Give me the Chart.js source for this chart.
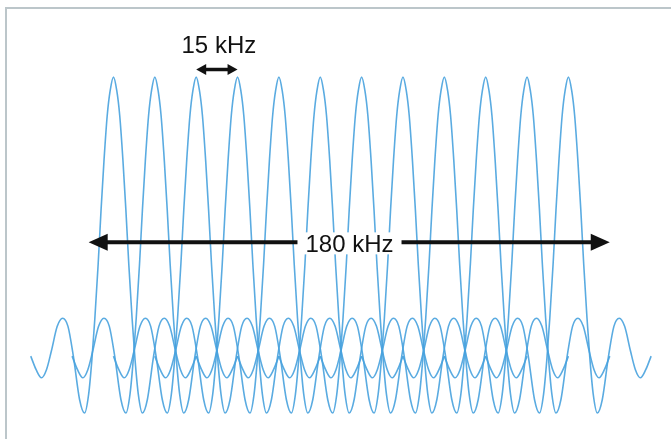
<!DOCTYPE html>
<html>
<head>
  <meta charset="UTF-8">
  <title>OFDM subcarriers</title>
  <script src="https://cdn.jsdelivr.net/npm/chart.js"></script>
  <style>
    body { margin: 0; background: #fff; }
    #wrap { position: relative; width: 671px; height: 439px; }
    #frame { position: absolute; left: 5px; top: 7px; right: -4px; bottom: -4px;
             border-left: 2px solid #bcc6ca; border-top: 2px solid #bcc6ca; }
    canvas { position: absolute; left: 0; top: 0; }
  </style>
</head>
<body>
  <div id="wrap">
    <div id="frame"></div>
    <canvas id="graphique" width="671" height="439"></canvas>
  </div>

  <script>
    // subcarrier centres (kHz), 15 kHz apart
    const carrierCenters = [0, 15, 30, 45, 60, 75, 90, 105, 120, 135, 150, 165];
    // one half of a subcarrier pulse (offset in kHz -> level, peak = 1)
    const pulseOffsets = [0, 1.2, 2.25, 3.45, 4.5, 5.55, 6.75, 7.8, 9, 10.5, 12.3, 14.55, 16.5, 18.45, 20.4, 22.5, 24.3, 26.1, 28.05, 30];
    const pulseLevels  = [1.0, 0.95, 0.86, 0.69, 0.51, 0.31, 0.11, -0.04, -0.17, -0.24, -0.19, -0.03, 0.08, 0.11, 0.08, -0.01, -0.08, -0.11, -0.08, -0.03];

    const spacingLabel = '15 kHz';
    const spacingFrom = 30, spacingTo = 45;
    const bandLabel = '180 kHz';
    const bandFrom = -9, bandTo = 180;

    function pulse(c) {
      const pts = [];
      for (let i = pulseOffsets.length - 1; i > 0; i--) pts.push({ x: c - pulseOffsets[i], y: pulseLevels[i] });
      for (let i = 0; i < pulseOffsets.length; i++) pts.push({ x: c + pulseOffsets[i], y: pulseLevels[i] });
      return pts;
    }

    const datasets = carrierCenters.map(c => ({
      data: pulse(c),
      borderColor: 'rgba(72,162,222,0.9)',
      borderWidth: 1.6,
      pointRadius: 0,
      cubicInterpolationMode: 'monotone',
      fill: false
    }));

    function arrowHead(ctx, x, y, dir, len, half) {
      ctx.beginPath();
      ctx.moveTo(x, y);
      ctx.lineTo(x - dir * len, y - half);
      ctx.lineTo(x - dir * len, y + half);
      ctx.closePath();
      ctx.fill();
    }

    const labels = {
      id: 'labels',
      afterDatasetsDraw(chart) {
        const { ctx, scales: { x, y } } = chart;
        ctx.save();
        ctx.fillStyle = '#111';
        ctx.strokeStyle = '#111';
        ctx.font = '24px Arial, "Liberation Sans", sans-serif';
        ctx.textAlign = 'center';
        ctx.textBaseline = 'middle';

        // 15 kHz spacing arrow
        const sx1 = x.getPixelForValue(spacingFrom), sx2 = x.getPixelForValue(spacingTo);
        const sy = y.getPixelForValue(1.028);
        ctx.lineWidth = 3.5;
        ctx.beginPath();
        ctx.moveTo(sx1 + 8, sy); ctx.lineTo(sx2 - 8, sy);
        ctx.stroke();
        arrowHead(ctx, sx1, sy, -1, 10, 5.5);
        arrowHead(ctx, sx2, sy, 1, 10, 5.5);
        ctx.fillText(spacingLabel, (sx1 + sx2) / 2 + 2, y.getPixelForValue(1.112));

        // 180 kHz band arrow
        const bx1 = x.getPixelForValue(bandFrom), bx2 = x.getPixelForValue(bandTo);
        const by = y.getPixelForValue(0.39);
        const tx = 349.5;
        const tw = ctx.measureText(bandLabel).width;
        ctx.fillStyle = '#fff';
        ctx.fillRect(tx - tw / 2 - 8, by - 10, tw + 16, 22);
        ctx.fillStyle = '#111';
        ctx.lineWidth = 4;
        ctx.beginPath();
        ctx.moveTo(bx1 + 15, by); ctx.lineTo(tx - tw / 2 - 8, by);
        ctx.moveTo(tx + tw / 2 + 8, by); ctx.lineTo(bx2 - 15, by);
        ctx.stroke();
        arrowHead(ctx, bx1, by, -1, 19, 8.5);
        arrowHead(ctx, bx2, by, 1, 19, 8.5);
        ctx.fillText(bandLabel, tx, by + 3);
        ctx.restore();
      }
    };

    new Chart(document.getElementById('graphique'), {
      type: 'line',
      data: { datasets: datasets },
      options: {
        responsive: false,
        animation: false,
        layout: { padding: { left: 8.7, right: 6.1, top: 50, bottom: 9.7 } },
        plugins: { legend: { display: false }, tooltip: { enabled: false } },
        scales: {
          x: { type: 'linear', min: -38, max: 200, display: false },
          y: { min: -0.3, max: 1.1, display: false }
        }
      },
      plugins: [labels]
    });
  </script>
</body>
</html>
